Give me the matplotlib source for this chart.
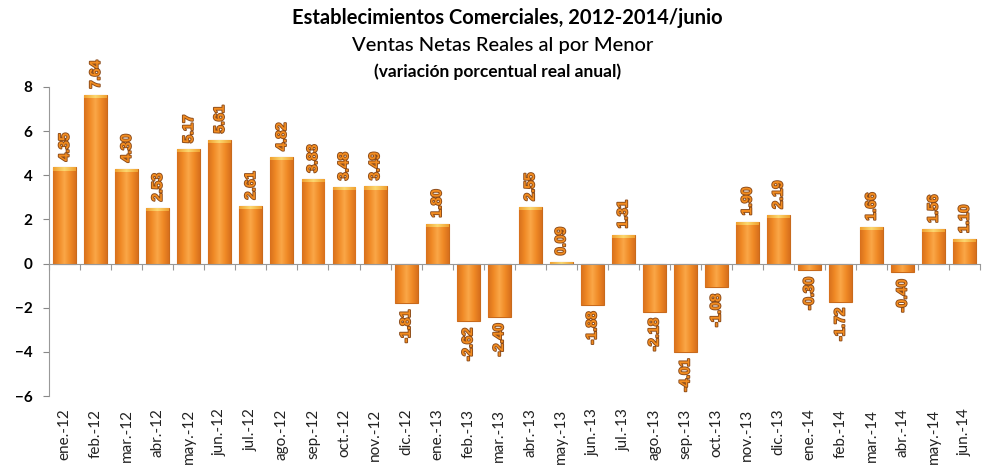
import matplotlib.pyplot as plt
import matplotlib.patheffects as pe
from matplotlib.colors import LinearSegmentedColormap
import numpy as np

# meses (etiquetas del eje x)
months = [
    "ene.-12", "feb.-12", "mar.-12", "abr.-12", "may.-12", "jun.-12",
    "jul.-12", "ago.-12", "sep.-12", "oct.-12", "nov.-12", "dic.-12",
    "ene.-13", "feb.-13", "mar.-13", "abr.-13", "may.-13", "jun.-13",
    "jul.-13", "ago.-13", "sep.-13", "oct.-13", "nov.-13", "dic.-13",
    "ene.-14", "feb.-14", "mar.-14", "abr.-14", "may.-14", "jun.-14",
]
# variacion porcentual real anual
values = [
    4.35, 7.64, 4.30, 2.53, 5.17, 5.61, 2.61, 4.82, 3.83, 3.48, 3.49, -1.81,
    1.80, -2.62, -2.40, 2.55, 0.09, -1.88, 1.31, -2.18, -4.01, -1.08, 1.90, 2.19,
    -0.30, -1.72, 1.66, -0.40, 1.56, 1.10,
]
yticks = [-6, -4, -2, 0, 2, 4, 6, 8]

plt.rcParams["font.family"] = ["Lato", "DejaVu Sans"]

fig = plt.figure(figsize=(9.85, 4.67), dpi=100)
ax = fig.add_axes([0.050, 0.152, 0.945, 0.662])

x = np.arange(len(months))
bars = ax.bar(x, values, width=0.74, color="#F29430", edgecolor="#C86A1C",
              linewidth=0.8, zorder=2)

# degradado horizontal dentro de cada barra
grad_cmap = LinearSegmentedColormap.from_list(
    "naranja", ["#D8701C", "#F08A26", "#FAA748", "#F08A26", "#D8701C"])
cap_cmap = LinearSegmentedColormap.from_list(
    "cap", ["#F0A030", "#FBD870", "#F0A030"])
grad = np.linspace(0, 1, 64).reshape(1, -1)
for b in bars:
    x0, y0 = b.get_x(), b.get_y()
    w, h = b.get_width(), b.get_height()
    im = ax.imshow(grad, cmap=grad_cmap, aspect="auto", zorder=2.1,
                   extent=[x0, x0 + w, min(y0, y0 + h), max(y0, y0 + h)])
    im.set_clip_path(b)
    if h > 0:
        cap = ax.imshow(grad, cmap=cap_cmap, aspect="auto", zorder=2.2,
                        extent=[x0, x0 + w, max(h - 0.14, 0), h])
        cap.set_clip_path(b)

# etiquetas de datos
for xi, v in zip(x, values):
    off = 0.28 if v >= 0 else -0.28
    ax.text(xi, v + off, f"{v:.2f}", rotation=90, ha="center",
            va="bottom" if v >= 0 else "top", fontsize=10.5, fontweight="bold",
            family="Liberation Sans", color="#F28C20",
            path_effects=[pe.withStroke(linewidth=1.3, foreground="#8A4A1A")],
            zorder=3)

ax.set_xlim(-0.5, len(months) - 0.5)
ax.set_ylim(-6, 8)
ax.set_yticks(yticks)
ax.tick_params(axis="y", labelsize=11, length=4, color="#888888", pad=8)
for lab in ax.get_yticklabels():
    lab.set_fontweight("bold")

ax.spines["top"].set_visible(False)
ax.spines["right"].set_visible(False)
ax.spines["left"].set_color("#999999")
ax.spines["bottom"].set_position(("data", 0))
ax.spines["bottom"].set_color("#999999")
ax.spines["bottom"].set_zorder(4)

# marcas entre categorias en la linea del cero
ax.set_xticks(np.arange(len(months) + 1) - 0.5)
ax.tick_params(axis="x", length=4, color="#999999", labelbottom=False)

sec = ax.secondary_xaxis(0.0)
sec.set_xticks(x, labels=months, rotation=90)
sec.tick_params(length=0, labelsize=11, pad=9, labelcolor="#222222")
sec.spines["bottom"].set_visible(False)

fig.text(0.515, 0.962, "Establecimientos Comerciales, 2012-2014/junio",
         ha="center", va="center", fontsize=14.5, fontweight="bold")
fig.text(0.51, 0.903, "Ventas Netas Reales al por Menor",
         ha="center", va="center", fontsize=14.5, fontweight="medium")
fig.text(0.505, 0.846, "(variación porcentual real anual)",
         ha="center", va="center", fontsize=12.5, fontweight="bold")

fig.savefig("out.png", dpi=100)
